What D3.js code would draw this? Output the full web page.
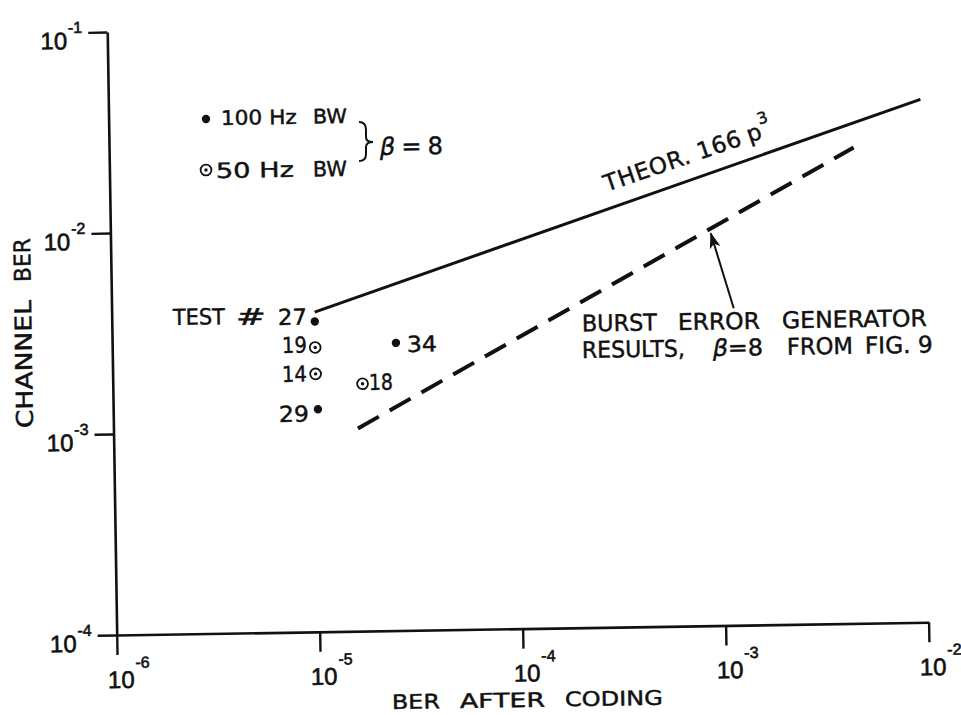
<!DOCTYPE html>
<html>
<head>
<meta charset="utf-8">
<script src="https://cdn.jsdelivr.net/npm/d3@7"></script>
<style>
  html, body { margin: 0; padding: 0; background: #fff; }
  svg { display: block; }
  text { font-family: "DejaVu Sans", "Liberation Sans", sans-serif; fill: #111; stroke: #111; stroke-width: 0.45px; }
  .tick text { font-family: "Liberation Sans", "DejaVu Sans", sans-serif; stroke-width: 0.6px; }
</style>
</head>
<body>
<svg id="chart" width="961" height="715"></svg>
<script>
// ---- data -------------------------------------------------------------
const xTickValues = [1e-6, 1e-5, 1e-4, 1e-3, 1e-2];
const yTickValues = [1e-4, 1e-3, 1e-2, 1e-1];

// field tests: BER after coding vs channel BER
const testIds     = ["27", "19", "14", "29", "34", "18"];
const berAfter    = [1.0e-5, 1.0e-5, 1.0e-5, 1.02e-5, 2.5e-5, 1.7e-5];
const channelBer  = [3.5e-3, 2.6e-3, 1.92e-3, 1.28e-3, 2.7e-3, 1.7e-3];
const bandwidthHz = [100, 50, 50, 100, 100, 50];

// theoretical curve 166 p^3 (end points)
const theorBer     = [1e-5, 1e-2];
const theorChannel = [3.9e-3, 4.0e-2];

// burst error generator results, beta = 8
const burstBer     = [1.6e-5, 4.65e-3];
const burstChannel = [1.02e-3, 2.33e-2];

// pointer from the note to the dashed curve (tail, tip)
const arrowBer     = [1.16e-3, 9.06e-4];
const arrowChannel = [3.78e-3, 8.95e-3];

// ---- layout -----------------------------------------------------------
const svg = d3.select("#chart");
const originX = 116.7, originY = 635, tilt = -0.9;
const plotW = 812, plotH = 603;
const ink = "#111";

const x = d3.scaleLog().domain([1e-6, 1e-2]).range([0, plotW]);
const y = d3.scaleLog().domain([1e-4, 1e-1]).range([0, -plotH]);

const defs = svg.append("defs");
defs.append("marker")
  .attr("id", "head")
  .attr("markerUnits", "userSpaceOnUse")
  .attr("markerWidth", 18).attr("markerHeight", 12)
  .attr("refX", 15).attr("refY", 6)
  .attr("orient", "auto")
  .append("path")
  .attr("d", "M0,0.5 L16,6 L0,11.5 L4,6 Z")
  .attr("fill", ink);

const plot = svg.append("g")
  .attr("transform", `translate(${originX},${originY}) rotate(${tilt})`);

// axes
const xAxis = plot.append("g")
  .call(d3.axisBottom(x).tickValues(xTickValues).tickSize(20).tickSizeOuter(0)
    .tickFormat(() => "10"));
const yAxis = plot.append("g")
  .call(d3.axisLeft(y).tickValues(yTickValues).tickSize(19).tickSizeOuter(0)
    .tickFormat(() => "10"));

[xAxis, yAxis].forEach(a => {
  a.attr("font-family", null).attr("font-size", null).attr("fill", null);
  a.select(".domain").attr("stroke", ink).attr("stroke-width", 2.6);
  a.selectAll(".tick line").attr("stroke", ink).attr("stroke-width", 2.4);
});

// "10" with a raised exponent, as one text element
function powerLabel(sel, anchor, px, py, rise) {
  sel.select("text")
    .attr("x", px).attr("y", py).attr("dy", 0)
    .attr("text-anchor", anchor)
    .attr("font-size", 24).attr("fill", ink)
    .each(function (d) {
      d3.select(this).append("tspan")
        .attr("dy", -rise).attr("dx", 1).attr("font-size", 16)
        .text(String(Math.round(Math.log10(d))));
    });
}
xAxis.selectAll(".tick").call(powerLabel, "start", -10, 53, 20);
yAxis.selectAll(".tick").call(powerLabel, "end", -25, 16, 16);

// theoretical line
const line = d3.line().x(d => x(d[0])).y(d => y(d[1]));
plot.append("path")
  .datum(d3.zip(theorBer, theorChannel))
  .attr("d", line)
  .attr("fill", "none").attr("stroke", ink).attr("stroke-width", 3);

// burst generator dashed line
plot.append("path")
  .datum(d3.zip(burstBer, burstChannel))
  .attr("d", line)
  .attr("fill", "none").attr("stroke", ink).attr("stroke-width", 4)
  .attr("stroke-dasharray", "24 12.5");

// pointer arrow
plot.append("line")
  .attr("x1", x(arrowBer[0])).attr("y1", y(arrowChannel[0]))
  .attr("x2", x(arrowBer[1])).attr("y2", y(arrowChannel[1]))
  .attr("stroke", ink).attr("stroke-width", 2)
  .attr("marker-end", "url(#head)");

// test points
const pts = d3.range(testIds.length).map(i => ({
  id: testIds[i], bx: berAfter[i], cy: channelBer[i], bw: bandwidthHz[i]
}));

const ptG = plot.selectAll("g.pt").data(pts).join("g")
  .attr("class", "pt")
  .attr("transform", d => `translate(${x(d.bx)},${y(d.cy)})`);

ptG.filter(d => d.bw === 100).append("circle")
  .attr("r", 4.2).attr("fill", ink);
ptG.filter(d => d.bw === 50).append("circle")
  .attr("r", 5.4).attr("fill", "#fff").attr("stroke", ink).attr("stroke-width", 1.8);
ptG.filter(d => d.bw === 50).append("circle")
  .attr("r", 1.7).attr("fill", ink);

// ---- annotations --------------------------------------------------------
// a line of words, each word fitted to its own width, tilted with the sheet
function words(list, x0, y0, size) {
  const g = svg.append("g").attr("transform", `rotate(${tilt},${x0},${y0})`);
  list.forEach(([txt, wx, len]) => {
    const t = g.append("text").attr("x", wx).attr("y", y0).attr("font-size", size).text(txt);
    if (len) t.attr("textLength", len).attr("lengthAdjust", "spacingAndGlyphs");
  });
  return g;
}

words([["TEST", 173, 52]], 173, 325, 22);
words([["#", 236, 30]], 236, 325, 23);
words([["27", 278, 29]], 278, 325, 22);
words([["19", 282, 25]], 282, 353, 22);
words([["14", 282, 25]], 282, 382, 22);
words([["29", 279, 30]], 279, 422, 22);
words([["34", 407, 30]], 407, 352, 22);
words([["18", 369, 24]], 369, 390, 22);

// legend
svg.append("circle").attr("cx", 206).attr("cy", 119).attr("r", 4.2).attr("fill", ink);
svg.append("circle").attr("cx", 206).attr("cy", 170).attr("r", 5.4)
  .attr("fill", "#fff").attr("stroke", ink).attr("stroke-width", 1.8);
svg.append("circle").attr("cx", 206).attr("cy", 170).attr("r", 1.7).attr("fill", ink);
words([["100 Hz", 221, 76], ["BW", 313, 34]], 221, 125, 20);
words([["50 Hz", 216, 78], ["BW", 313, 34]], 216, 178, 21);
svg.append("path")
  .attr("d", "M359,122 Q366,122 366,130 L366,137 Q366,142 373,142 Q366,142 366,147 L366,154 Q366,161 359,161")
  .attr("fill", "none").attr("stroke", ink).attr("stroke-width", 2);
const beta1 = words([], 380, 155, 24);
const bt = beta1.append("text").attr("x", 380).attr("y", 155).attr("font-size", 24)
  .attr("textLength", 63).attr("lengthAdjust", "spacing");
bt.append("tspan").attr("font-style", "italic").text("β");
bt.append("tspan").text(" = 8");

// curve label
const theorLbl = svg.append("g").attr("transform", "translate(606.7,191.7) rotate(-18.9)");
theorLbl.append("text").attr("x", 0).attr("y", 0).attr("font-size", 23)
  .attr("textLength", 144).attr("lengthAdjust", "spacing").text("THEOR. 166");
theorLbl.append("text").attr("x", 151).attr("y", 0).attr("font-size", 23).text("p");
theorLbl.append("text").attr("x", 166).attr("y", -14).attr("font-size", 16).text("3");

words([["BURST", 582, 75], ["ERROR", 678, 82], ["GENERATOR", 782, 145]], 582, 331.5, 23);
const l2 = words([["RESULTS,", 582, 103], ["FROM", 787, 66], ["FIG. 9", 865, 68]], 582, 358, 23);
const b2 = l2.append("text").attr("x", 713).attr("y", 358).attr("font-size", 23)
  .attr("textLength", 50).attr("lengthAdjust", "spacingAndGlyphs");
b2.append("tspan").attr("font-style", "italic").text("β");
b2.append("tspan").text("=8");

// axis titles
words([["BER", 392, 48], ["AFTER", 460, 85], ["CODING", 565, 98]], 392, 709, 20);
const yTitle = svg.append("g").attr("transform", `translate(33,428) rotate(${-90 + tilt})`);
yTitle.append("text").attr("x", 0).attr("y", 0).attr("font-size", 23)
  .attr("textLength", 128).attr("lengthAdjust", "spacingAndGlyphs").text("CHANNEL");
yTitle.append("text").attr("x", 146).attr("y", 0).attr("font-size", 23)
  .attr("textLength", 44).attr("lengthAdjust", "spacingAndGlyphs").text("BER");
</script>
</body>
</html>
